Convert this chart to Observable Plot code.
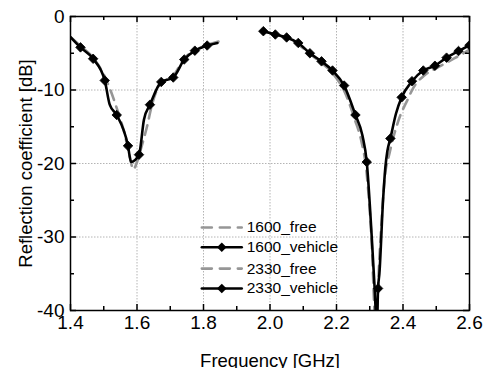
<!DOCTYPE html>
<html>
<head>
<meta charset="utf-8">
<script src="https://cdn.jsdelivr.net/npm/d3@7"></script>
<script src="https://cdn.jsdelivr.net/npm/@observablehq/plot@0.6"></script>
<style>
  html, body { margin: 0; padding: 0; background: #fff; }
  #chart svg { overflow: visible; display: block; }
</style>
</head>
<body>
<div id="chart"></div>
<script>
// ---------- data ----------
const freq1600Free = [1.40, 1.43, 1.468, 1.50, 1.52, 1.54, 1.56, 1.575, 1.589, 1.60, 1.615, 1.63, 1.645, 1.67, 1.71, 1.742, 1.775, 1.81, 1.845];
const db1600Free   = [-2.8, -4.0, -5.6, -7.9, -10.0, -12.6, -15.5, -18.3, -20.8, -19.8, -17.5, -15.0, -12.0, -9.2, -8.0, -5.7, -4.6, -3.9, -3.4];

const freq1600Veh = [1.40, 1.43, 1.468, 1.503, 1.518, 1.539, 1.573, 1.582, 1.606, 1.621, 1.639, 1.673, 1.709, 1.742, 1.774, 1.811, 1.842];
const db1600Veh   = [-2.8, -4.2, -5.75, -8.7, -12.0, -13.4, -17.6, -19.8, -18.8, -14.0, -12.0, -8.9, -8.3, -5.85, -4.65, -3.95, -3.6];
const marks1600Veh = [1, 2, 3, 5, 6, 8, 10, 11, 12, 13, 14, 15];

const freq2330Free = [1.98, 2.02, 2.05, 2.085, 2.12, 2.155, 2.19, 2.225, 2.255, 2.275, 2.29, 2.305, 2.318, 2.33, 2.345, 2.36, 2.386, 2.415, 2.431, 2.465, 2.506, 2.542, 2.582, 2.60];
const db2330Free   = [-2.0, -2.5, -2.9, -3.8, -5.1, -6.3, -7.8, -10.3, -14.0, -17.0, -21.0, -30.0, -42.0, -32.0, -22.0, -18.5, -14.2, -11.2, -9.7, -8.0, -6.9, -6.0, -5.0, -4.5];

const freq2330Veh = [1.98, 2.016, 2.05, 2.085, 2.12, 2.155, 2.188, 2.223, 2.257, 2.278, 2.291, 2.306, 2.314, 2.3215, 2.325, 2.329, 2.34, 2.347, 2.353, 2.362, 2.379, 2.396, 2.427, 2.461, 2.496, 2.531, 2.567, 2.60];
const db2330Veh   = [-2.0, -2.45, -2.85, -3.6, -5.0, -6.1, -7.35, -9.4, -13.4, -16.2, -19.8, -30.0, -36.4, -42.0, -37.0, -35.0, -25.0, -20.5, -18.3, -16.6, -13.2, -11.0, -8.8, -7.35, -6.7, -5.6, -4.7, -3.9];
const marks2330Veh = [0, 1, 2, 3, 4, 5, 6, 7, 8, 10, 14, 19, 21, 22, 23, 24, 25, 26, 27];

const xMajor = [1.4, 1.6, 1.8, 2.0, 2.2, 2.4, 2.6];
const xMinor = [1.5, 1.7, 1.9, 2.1, 2.3, 2.5];
const yMajor = [0, -10, -20, -30, -40];
const yMinor = [-5, -15, -25, -35];
const xGrid = [1.6, 1.8, 2.0, 2.2, 2.4];
const yGrid = [-10, -20, -30];

const xTitle = "Frequency [GHz]";
const yTitle = "Reflection coefficient [dB]";

const legendNames = ["1600_free", "1600_vehicle", "2330_free", "2330_vehicle"];
const legendRowsDb = [-28.7, -31.4, -34.3, -37.0];
const legendLineFreq = [1.795, 1.915];
const legendTextFreq = 1.93;

// ---------- build tables ----------
const zip = (fs, ds, series) => fs.map((f, i) => ({f, db: ds[i], series}));
const free1600 = zip(freq1600Free, db1600Free, "1600_free");
const veh1600 = zip(freq1600Veh, db1600Veh, "1600_vehicle");
const free2330 = zip(freq2330Free, db2330Free, "2330_free");
const veh2330 = zip(freq2330Veh, db2330Veh, "2330_vehicle");
const vehMarks = [
  ...marks1600Veh.map(i => veh1600[i]),
  ...marks2330Veh.map(i => veh2330[i])
];

const legendLines = [];
legendNames.forEach((name, i) => {
  legendLineFreq.forEach(f => legendLines.push({name, f, db: legendRowsDb[i]}));
});
const legendText = legendNames.map((name, i) => ({name, f: legendTextFreq, db: legendRowsDb[i]}));
const legendMarks = legendNames.map((name, i) => ({name, f: (legendLineFreq[0] + legendLineFreq[1]) / 2, db: legendRowsDb[i]}))
  .filter(d => d.name.endsWith("vehicle"));

// rotated-square marker
const diamond = {
  draw(ctx, size) {
    const r = Math.sqrt(size / 2);
    ctx.moveTo(0, -r); ctx.lineTo(r, 0); ctx.lineTo(0, r); ctx.lineTo(-r, 0); ctx.closePath();
  }
};

const W = 484, H = 368;
const mT = 16, mR = 15, mB = 58, mL = 70;
const innerW = W - mL - mR, innerH = H - mT - mB;
const TICK = 6, MINOR = 4;

const freeStyle = {stroke: "#969696", strokeWidth: 2.6, strokeDasharray: "10,7", curve: "monotone-x"};
const vehStyle = {stroke: "#000", strokeWidth: 2.6, curve: "monotone-x"};

const plot = Plot.plot({
  width: W, height: H,
  marginTop: mT, marginRight: mR, marginBottom: mB, marginLeft: mL,
  style: {fontFamily: "'Liberation Sans', Arial, sans-serif", fontSize: "19px", background: "#fff", color: "#000"},
  x: {domain: [1.4, 2.6], axis: null},
  y: {domain: [-40, 0], axis: null},
  marks: [
    // grid
    Plot.ruleX(xGrid, {x: d => d, stroke: "#b4b4b4", strokeWidth: 1, strokeDasharray: "1.5,1.5"}),
    Plot.ruleY(yGrid, {y: d => d, stroke: "#b4b4b4", strokeWidth: 1, strokeDasharray: "1.5,1.5"}),
    // data
    Plot.line(free1600, {x: "f", y: "db", ...freeStyle, clip: true}),
    Plot.line(free2330, {x: "f", y: "db", ...freeStyle, clip: true}),
    Plot.line(veh1600, {x: "f", y: "db", ...vehStyle, clip: true}),
    Plot.line(veh2330, {x: "f", y: "db", ...vehStyle, clip: true}),
    Plot.dot(vehMarks, {x: "f", y: "db", symbol: diamond, r: 3.8, fill: "#000", stroke: "#000", strokeWidth: 0.8, clip: true}),
    // legend
    Plot.line(legendLines.filter(d => d.name.endsWith("free")), {x: "f", y: "db", z: "name", stroke: "#969696", strokeWidth: 2.6, strokeDasharray: "10,8"}),
    Plot.line(legendLines.filter(d => d.name.endsWith("vehicle")), {x: "f", y: "db", z: "name", stroke: "#000", strokeWidth: 2.6}),
    Plot.dot(legendMarks, {x: "f", y: "db", symbol: diamond, r: 3.8, fill: "#000"}),
    Plot.text(legendText, {x: "f", y: "db", text: "name", textAnchor: "start", lineAnchor: "middle", fontSize: 15.5, fill: "#000"}),
    // frame
    Plot.frame({stroke: "#000", strokeWidth: 1.5}),
    // inward ticks: bottom / top
    Plot.ruleX(xMajor, {x: d => d, insetTop: innerH - TICK, stroke: "#000", strokeWidth: 1.5}),
    Plot.ruleX(xMajor, {x: d => d, insetBottom: innerH - TICK, stroke: "#000", strokeWidth: 1.5}),
    Plot.ruleX(xMinor, {x: d => d, insetTop: innerH - MINOR, stroke: "#000", strokeWidth: 1.5}),
    Plot.ruleX(xMinor, {x: d => d, insetBottom: innerH - MINOR, stroke: "#000", strokeWidth: 1.5}),
    // inward ticks: left / right
    Plot.ruleY(yMajor, {y: d => d, insetRight: innerW - TICK, stroke: "#000", strokeWidth: 1.5}),
    Plot.ruleY(yMajor, {y: d => d, insetLeft: innerW - TICK, stroke: "#000", strokeWidth: 1.5}),
    Plot.ruleY(yMinor, {y: d => d, insetRight: innerW - MINOR, stroke: "#000", strokeWidth: 1.5}),
    Plot.ruleY(yMinor, {y: d => d, insetLeft: innerW - MINOR, stroke: "#000", strokeWidth: 1.5}),
    // tick labels
    Plot.axisX(xMajor, {anchor: "bottom", tickSize: 0, tickPadding: 5, tickFormat: d3.format(".1f"), fontSize: 19, label: null}),
    Plot.axisY(yMajor, {anchor: "left", tickSize: 0, tickPadding: 6, tickFormat: d => d < 0 ? "-" + Math.abs(d) : String(d), fontSize: 19, label: null}),
    // axis titles
    Plot.axisX([], {anchor: "bottom", tickSize: 0, label: xTitle, labelAnchor: "center", labelArrow: "none", labelOffset: 56, fontSize: 18.5}),
    Plot.axisY([], {anchor: "left", tickSize: 0, label: yTitle, labelAnchor: "center", labelArrow: "none", labelOffset: 52, dy: -5.5, fontSize: 18.5})
  ]
});
document.getElementById("chart").appendChild(plot);
</script>
</body>
</html>
